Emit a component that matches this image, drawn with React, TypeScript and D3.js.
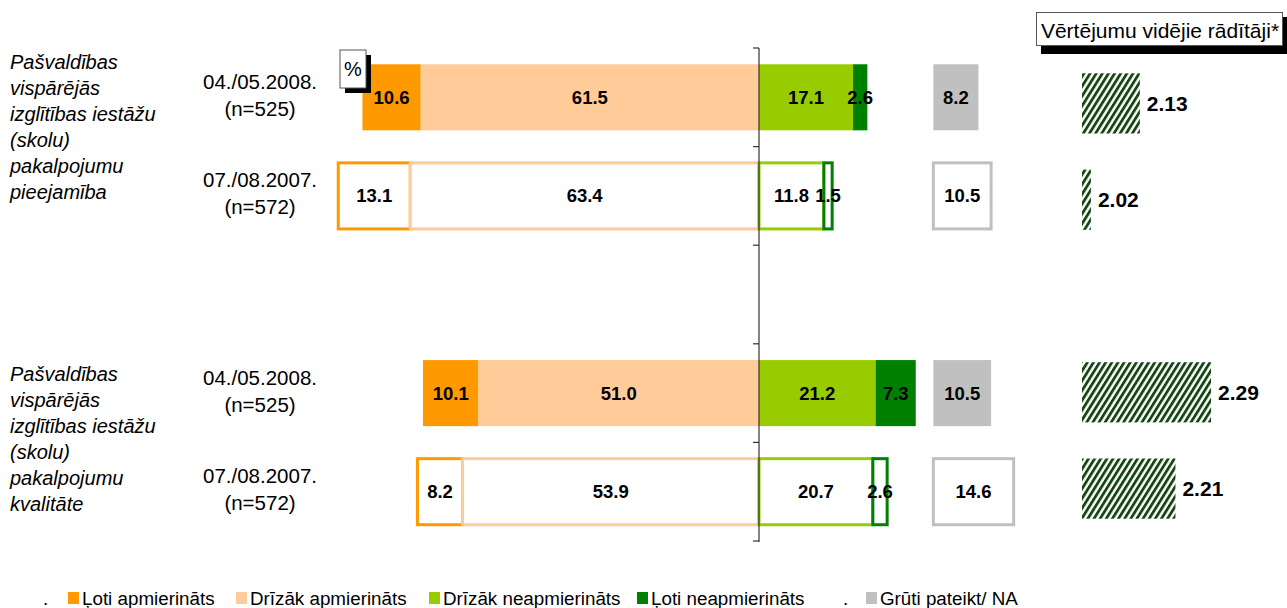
import React from "react";
import * as d3 from "d3";

const rowKeys = ["r1", "r2", "gap", "r3", "r4"];
const dataRows = ["r1", "r2", "r3", "r4"];
const waves = ["04./05.2008.", "07./08.2007.", "04./05.2008.", "07./08.2007."];
const samples = ["(n=525)", "(n=572)", "(n=525)", "(n=572)"];
const filled = [true, false, true, false];
const veryPos = [10.6, 13.1, 10.1, 8.2];
const ratherPos = [61.5, 63.4, 51.0, 53.9];
const ratherNeg = [17.1, 11.8, 21.2, 20.7];
const veryNeg = [2.6, 1.5, 7.3, 2.6];
const hardToSay = [8.2, 10.5, 10.5, 14.6];
const means = [2.13, 2.02, 2.29, 2.21];
const groupLabels = [
  ["Pašvaldības", "vispārējās", "izglītības iestāžu", "(skolu)", "pakalpojumu", "pieejamība"],
  ["Pašvaldības", "vispārējās", "izglītības iestāžu", "(skolu)", "pakalpojumu", "kvalitāte"],
];
const legendNames = ["Ļoti apmierināts", "Drīzāk apmierināts", "Drīzāk neapmierināts", "Ļoti neapmierināts", "Grūti pateikt/ NA"];
const meanTitle = "Vērtējumu vidējie rādītāji*";

const COLORS = ["#FF9900", "#FFCC99", "#99CC00", "#008000", "#C0C0C0"];
const FONT = "'Liberation Sans', Arial, Helvetica, sans-serif";

export default function App() {
  const W = 1287, H = 608;
  const y = d3.scaleBand<string>().domain(rowKeys).range([48, 541]).paddingInner(0.33).paddingOuter(0.165);
  const yMean = d3.scaleBand<string>().domain(rowKeys).range([55, 537]).paddingInner(0.375).paddingOuter(0.19);
  const x = d3.scaleLinear().domain([0, 100]).range([759, 759 + 550]);
  const naStart = 31.7;
  const xm = d3.scaleLinear().domain([2.0, 2.5]).range([1082, 1082 + 222.5]);

  const segs: any[] = [];
  dataRows.forEach((r, i) => {
    const a = -(veryPos[i] + ratherPos[i]);
    segs.push({ r, i, x0: a, x1: a + veryPos[i], v: veryPos[i], c: 0 });
    segs.push({ r, i, x0: -ratherPos[i], x1: 0, v: ratherPos[i], c: 1 });
    segs.push({ r, i, x0: 0, x1: ratherNeg[i], v: ratherNeg[i], c: 2 });
    segs.push({ r, i, x0: ratherNeg[i], x1: ratherNeg[i] + veryNeg[i], v: veryNeg[i], c: 3 });
    segs.push({ r, i, x0: naStart, x1: naStart + hardToSay[i], v: hardToSay[i], c: 4 });
  });

  const axisTicks = [48, ...rowKeys.map((k) => (y(k) as number) + y.bandwidth() + (y.step() * 0.33) / 2)];

  const legendX = [68, 236, 429, 637, 866];
  const legendDots = [43, 843];

  return (
    <svg width={W} height={H} style={{ position: "absolute", left: 0, top: 0, fontFamily: FONT }}>
      <defs>
        <pattern id="hatch" patternUnits="userSpaceOnUse" width={5.2} height={10} patternTransform="rotate(32)">
          <rect width={5.2} height={10} fill="#ffffff" />
          <rect width={2.8} height={10} fill="#164516" />
        </pattern>
      </defs>
      <rect width={W} height={H} fill="#fff" />

      {groupLabels.map((lines, g) => (
        <text key={g} x={10} fontStyle="italic" fontSize={20} fill="#000">
          {lines.map((l, j) => (
            <tspan key={j} x={10} y={(g === 0 ? 62 : 374) + j * 25.9} dominantBaseline="central">{l}</tspan>
          ))}
        </text>
      ))}

      {dataRows.map((r, i) => {
        const cy = (y(r) as number) + y.bandwidth() / 2;
        return (
          <g key={r}>
            <text x={260} y={cy - 16} textAnchor="middle" dominantBaseline="central" fontSize={20.5}>{waves[i]}</text>
            <text x={260} y={cy + 11} textAnchor="middle" dominantBaseline="central" fontSize={20.5}>{samples[i]}</text>
          </g>
        );
      })}

      {segs.map((s, k) => {
        const yy = y(s.r) as number;
        const x0 = x(s.x0), x1 = x(s.x1);
        const f = filled[s.i];
        return f ? (
          <rect key={k} x={x0} y={yy} width={x1 - x0} height={y.bandwidth()} fill={COLORS[s.c]} />
        ) : (
          <rect key={k} x={x0} y={yy} width={x1 - x0} height={y.bandwidth()} fill="#fff" stroke={COLORS[s.c]} strokeWidth={3} />
        );
      })}
      {segs.map((s, k) => {
        const yy = (y(s.r) as number) + y.bandwidth() / 2;
        return (
          <text key={"t" + k} x={(x(s.x0) + x(s.x1)) / 2} y={yy} textAnchor="middle" dominantBaseline="central" fontWeight="bold" fontSize={18.5}>
            {s.v.toFixed(1)}
          </text>
        );
      })}

      <line x1={759} x2={759} y1={48} y2={542} stroke="#333" strokeWidth={1.2} />
      {axisTicks.map((t, k) => (
        <line key={k} x1={753} x2={759} y1={t} y2={t} stroke="#333" strokeWidth={1.2} />
      ))}

      <rect x={345} y={55} width={26} height={38} fill="#000" />
      <rect x={340} y={50} width={26} height={38} fill="#fff" stroke="#555" strokeWidth={1} />
      <text x={353} y={69} textAnchor="middle" dominantBaseline="central" fontSize={20}>%</text>

      <rect x={1041} y={17} width={246} height={37} fill="#000" />
      <rect x={1036.5} y={12.5} width={246} height={33} fill="#fff" stroke="#555" strokeWidth={1} />
      <text x={1160} y={30} textAnchor="middle" dominantBaseline="central" fontSize={21}>{meanTitle}</text>

      {dataRows.map((r, i) => {
        const yy = yMean(r) as number;
        const w = xm(means[i]) - xm(2.0);
        return (
          <g key={"m" + r}>
            <rect x={xm(2.0)} y={yy} width={w} height={yMean.bandwidth()} fill="url(#hatch)" />
            <text x={xm(means[i]) + 7} y={yy + yMean.bandwidth() / 2} dominantBaseline="central" fontWeight="bold" fontSize={21}>
              {means[i].toFixed(2)}
            </text>
          </g>
        );
      })}

      {legendDots.map((dx, k) => (
        <text key={"d" + k} x={dx} y={598} dominantBaseline="central" fontSize={18.8}>.</text>
      ))}
      {legendNames.map((n, k) => (
        <g key={"l" + k}>
          <rect x={legendX[k]} y={592} width={11} height={12} fill={COLORS[k]} />
          <text x={legendX[k] + 14} y={598} dominantBaseline="central" fontSize={18.8}>{n}</text>
        </g>
      ))}
    </svg>
  );
}
